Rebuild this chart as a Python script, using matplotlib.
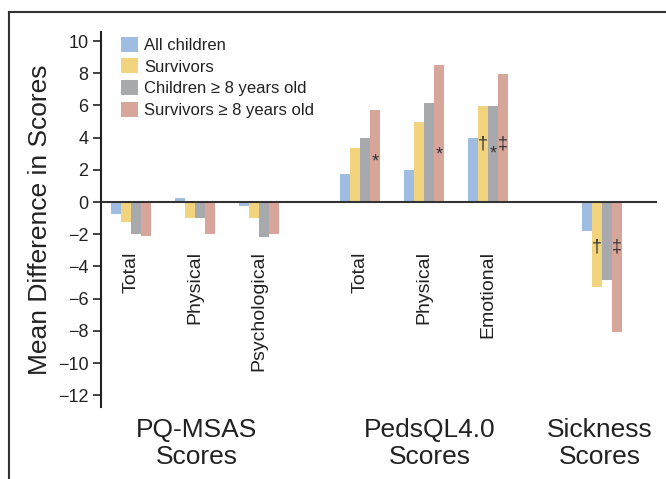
import matplotlib.pyplot as plt
from matplotlib.patches import Patch
from matplotlib.lines import Line2D

plt.rcParams['font.family'] = ['Liberation Sans Narrow', 'Liberation Sans', 'DejaVu Sans']

# sub-scale labels and their group
subscales = ['Total', 'Physical', 'Psychological', 'Total', 'Physical', 'Emotional', '']
positions = [0, 1, 2, 3.58, 4.58, 5.58, 7.36]

series = ['All children', 'Survivors', 'Children \u2265 8 years old', 'Survivors \u2265 8 years old']
colors = ['#9fbde2', '#f2d37e', '#a8a9ac', '#d8a59b']

all_children = [-0.75, 0.25, -0.25, 1.75, 2.0, 4.0, -1.8]
survivors = [-1.25, -1.0, -1.0, 3.35, 4.97, 5.97, -5.3]
children_8 = [-2.0, -1.0, -2.15, 4.0, 6.15, 5.97, -4.85]
survivors_8 = [-2.1, -2.0, -2.0, 5.7, 8.5, 7.95, -8.05]
values = [all_children, survivors, children_8, survivors_8]

# significance marks: (group index, series index, symbol, y)
marks = [(3, 3, '*', 2.5), (4, 3, '*', 2.9), (5, 1, '\u2020', 3.6), (5, 2, '*', 3.0),
         (5, 3, '\u2021', 3.6), (6, 1, '\u2020', -2.8), (6, 3, '\u2021', -2.8)]

groups = ['PQ-MSAS\nScores', 'PedsQL4.0\nScores', 'Sickness\nScores']
group_x = [0.295, 0.645, 0.90]

fig = plt.figure(figsize=(6.66, 4.79), dpi=100)
ax = fig.add_axes([0.1517, 0.1503, 0.835, 0.7829])

w = 0.156
for s in range(4):
    xs = [p + (s - 1.5) * w for p in positions]
    ax.bar(xs, values[s], width=w, color=colors[s], linewidth=0)

for g, s, sym, y in marks:
    ax.text(positions[g] + (s - 1.5) * w, y, sym, ha='center', va='center',
            fontsize=13, color='#333333')

for p, lab in zip(positions, subscales):
    ax.text(p, -3.05, lab, rotation=90, ha='center', va='top', fontsize=14, color='#222222')

ax.axhline(0, color='#333333', lw=1.5, zorder=5)
ax.set_xlim(-0.47, 8.22)
ax.set_ylim(-12.73, 10.56)
ax.set_yticks(range(-12, 11, 2))
ax.set_yticklabels([str(v).replace('-', '\u2212') for v in range(-12, 11, 2)])
ax.tick_params(axis='y', length=6, width=1.2, labelsize=13, colors='#222222', pad=3)
ax.set_xticks([])
for side in ['top', 'right', 'bottom']:
    ax.spines[side].set_visible(False)
ax.spines['left'].set_linewidth(1.5)
ax.spines['left'].set_color('#222222')
ax.set_ylabel('Mean Difference in Scores', fontsize=19, color='#222222', labelpad=4)

for x, lab in zip(group_x, groups):
    fig.text(x, 0.075, lab, ha='center', va='center', fontsize=19, color='#222222',
             linespacing=1.15)

handles = [Patch(facecolor=c, edgecolor='none') for c in colors]
ax.legend(handles, series, loc='upper left', bbox_to_anchor=(0.018, 1.014), frameon=False,
          fontsize=12, handlelength=1.0, handleheight=1.0, handletextpad=0.4,
          labelspacing=0.33, borderaxespad=0.2, labelcolor='#222222')

# outer frame
fig.add_artist(Line2D([9 / 666, 9 / 666], [0, 1 - 12 / 479], color='#333333', lw=1.5))
fig.add_artist(Line2D([9 / 666, 1], [1 - 12 / 479, 1 - 12 / 479], color='#333333', lw=1.5))

fig.savefig('out.png', dpi=100)
